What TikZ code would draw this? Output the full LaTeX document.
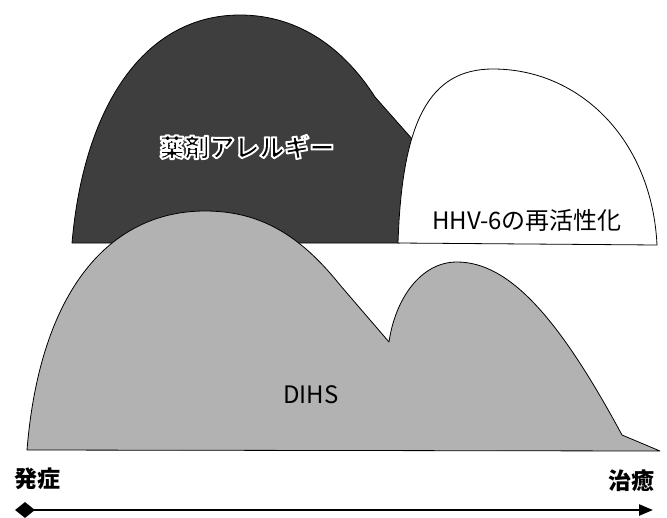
\documentclass[tikz,border=0pt]{standalone}
\usepackage{fontspec}
\setmainfont{Noto Sans CJK JP}
\usetikzlibrary{arrows.meta,shapes.geometric,calc}
\definecolor{darkfill}{HTML}{3E3E3E}
\definecolor{grayfill}{HTML}{B2B2B2}
\newcommand{\outlinedtext}[1]{\special{pdf:literal direct 2 Tr 1 1 1 RG 1.9 w 1 j}#1\special{pdf:literal direct 0 Tr 0 0 0 RG}}
\begin{document}
\begin{tikzpicture}[x=1pt,y=-1pt,
  blob/.style={draw=black, line width=0.8pt, line join=round},
  lbl/.style={inner sep=0pt, font=\fontsize{24}{24}\selectfont},
  boldlbl/.style={inner sep=0pt, font=\fontsize{23}{23}\selectfont\bfseries}]
\useasboundingbox (0,0) rectangle (667,517);

% drug allergy (dark)
\path[blob, fill=darkfill] (72,243) .. controls (84,105) and (145,15) .. (240,15)
  .. controls (300,15) and (345,50) .. (375,97) -- (413,140) -- (400,243) -- cycle;

% HHV-6 reactivation (white)
\path[blob, fill=white] (398,243) .. controls (402,120) and (430,69) .. (493,69)
  .. controls (580,69) and (652,140) .. (657,245) -- cycle;

% DIHS (gray)
\path[blob, fill=grayfill] (27,450) .. controls (40,290) and (110,211) .. (205,211)
  .. controls (260,211) and (300,235) .. (340,285) -- (389,342)
  .. controls (395,300) and (420,262) .. (457,262)
  .. controls (510,262) and (560,320) .. (622,435) -- (660,451) -- cycle;

% labels
\node[inner sep=0pt, font=\fontsize{25}{25}\selectfont\bfseries, text=black] (allergy) at (247,147) {\outlinedtext{薬剤アレルギー}};
\node[lbl] (hhv) at (527,220) {HHV-6の再活性化};
\node[lbl] (dihs) at (311,395) {DIHS};
\node[boldlbl] (onset) at (37,479) {発症};
\node[boldlbl] (cure) at (631,481) {治癒};

% time axis
\node[diamond, fill=black, inner sep=0pt, minimum width=20pt, minimum height=16pt] (start) at (25,510) {};
\coordinate (end) at (653,510);
\draw[line width=2.4pt, -{Triangle[length=14pt,width=11pt]}] (start.center) -- (end);
\end{tikzpicture}
\end{document}
